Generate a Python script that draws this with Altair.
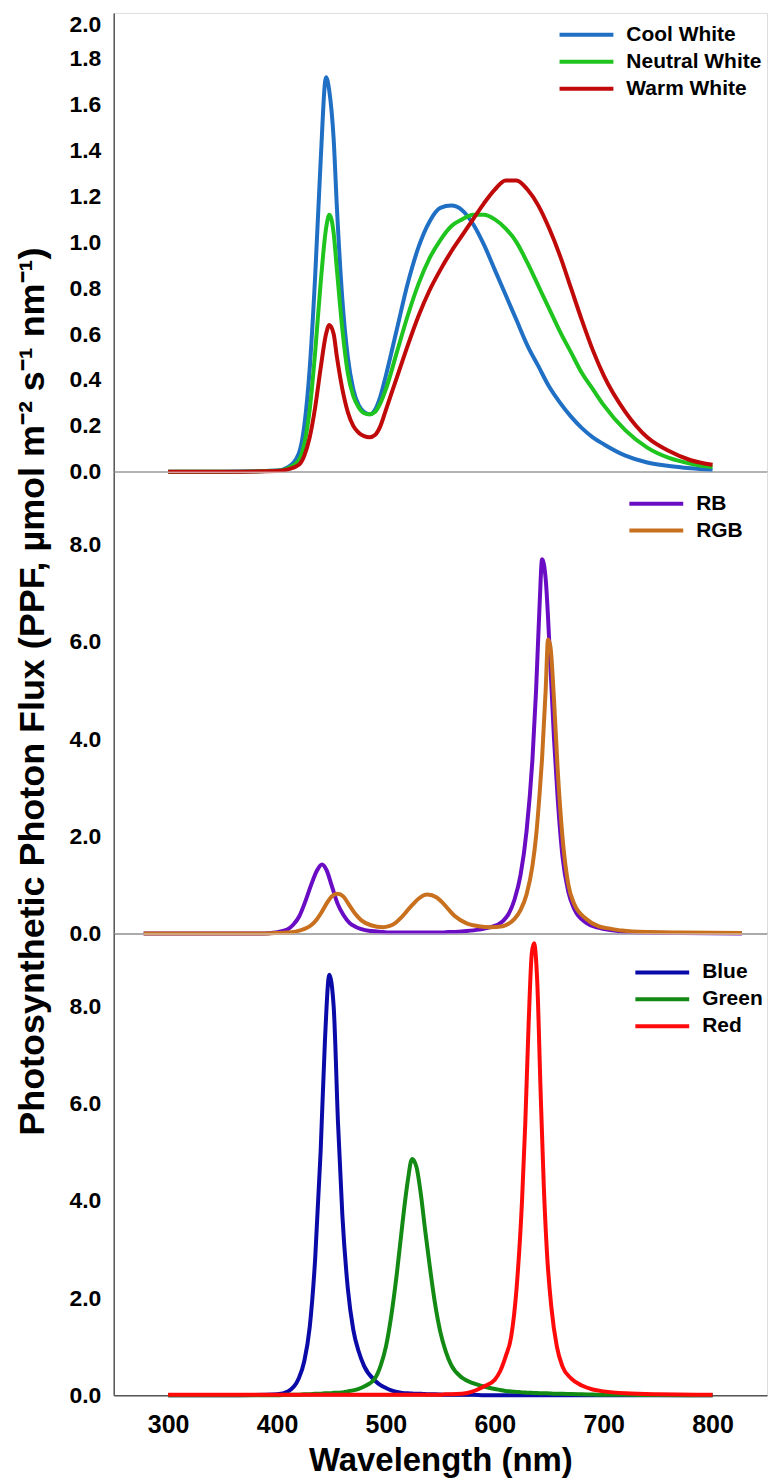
import altair as alt
import pandas as pd

FONT = "Liberation Sans"

# ---------------- data ----------------
TOP_SERIES = ["Cool White", "Neutral White", "Warm White"]
TOP_COLORS = ["#1f6fc4", "#1fc41f", "#c00a0a"]
TOP_WL = [300, 350, 400, 410, 420, 425, 430, 435, 440, 445, 448, 452, 455, 460, 465,
          470, 475, 480, 485, 490, 495, 500, 510, 520, 530, 540, 550, 560, 570, 580,
          590, 600, 610, 620, 630, 640, 650, 660, 670, 680, 690, 700, 720, 740, 760,
          780, 800]
COOL_WHITE = [0, 0, 0.005, 0.02, 0.08, 0.2, 0.45, 0.85, 1.35, 1.72, 1.66, 1.45, 1.15,
              0.75, 0.5, 0.36, 0.29, 0.26, 0.25, 0.27, 0.33, 0.42, 0.62, 0.82, 0.98,
              1.09, 1.15, 1.16, 1.14, 1.08, 0.99, 0.88, 0.77, 0.66, 0.55, 0.46, 0.37,
              0.30, 0.24, 0.19, 0.15, 0.12, 0.07, 0.04, 0.025, 0.015, 0.008]
NEUTRAL_WHITE = [0, 0, 0.004, 0.015, 0.05, 0.12, 0.27, 0.52, 0.82, 1.06, 1.12, 1.04,
                 0.88, 0.62, 0.43, 0.33, 0.28, 0.255, 0.25, 0.26, 0.3, 0.36, 0.52, 0.68,
                 0.82, 0.93, 1.01, 1.07, 1.1, 1.12, 1.12, 1.1, 1.06, 1.0, 0.91, 0.81,
                 0.71, 0.61, 0.52, 0.43, 0.36, 0.29, 0.18, 0.105, 0.06, 0.035, 0.02]
WARM_WHITE = [0, 0, 0.003, 0.01, 0.03, 0.07, 0.15, 0.28, 0.45, 0.6, 0.64, 0.6, 0.5,
              0.36, 0.26, 0.2, 0.17, 0.155, 0.15, 0.16, 0.2, 0.27, 0.41, 0.55, 0.68,
              0.79, 0.88, 0.96, 1.03, 1.1, 1.17, 1.23, 1.27, 1.27, 1.23, 1.16, 1.06,
              0.94, 0.8, 0.66, 0.53, 0.42, 0.26, 0.15, 0.09, 0.05, 0.03]

MID_SERIES = ["RB", "RGB"]
MID_COLORS = ["#6a0cc4", "#c8701e"]
MID_WL = [300, 350, 400, 410, 420, 425, 430, 435, 440, 445, 449, 453, 457, 462, 467,
          472, 477, 482, 490, 500, 505, 510, 515, 520, 525, 530, 537, 545, 550, 555,
          560, 570, 580, 590, 600, 605, 610, 615, 620, 625, 628, 631, 633, 636, 638,
          640, 643, 646, 650, 655, 660, 670, 680, 690, 700, 720, 750, 800]
RB = [0, 0, 0, 0.02, 0.08, 0.18, 0.35, 0.65, 1.0, 1.3, 1.42, 1.3, 1.0, 0.62, 0.38,
      0.22, 0.14, 0.09, 0.05, 0.03, 0.02, 0.02, 0.02, 0.02, 0.02, 0.02, 0.02, 0.02,
      0.02, 0.03, 0.03, 0.05, 0.08, 0.13, 0.25, 0.4, 0.7, 1.2, 2.1, 3.6, 5.0, 6.8,
      7.7, 7.3, 6.5, 5.5, 4.0, 2.8, 1.6, 0.85, 0.5, 0.22, 0.12, 0.07, 0.04, 0.02,
      0.01, 0]
RGB = [0, 0, 0, 0.01, 0.02, 0.03, 0.06, 0.1, 0.17, 0.3, 0.45, 0.62, 0.76, 0.82, 0.76,
       0.58, 0.4, 0.27, 0.17, 0.13, 0.15, 0.21, 0.32, 0.46, 0.6, 0.72, 0.8, 0.74,
       0.63, 0.49, 0.36, 0.21, 0.15, 0.13, 0.15, 0.2, 0.3, 0.48, 0.8, 1.4, 2.0, 2.9,
       3.6, 5.0, 6.05, 5.9, 4.8, 3.4, 2.0, 1.0, 0.6, 0.3, 0.15, 0.1, 0.06, 0.03, 0.02,
       0.01]

BOT_SERIES = ["Blue", "Green", "Red"]
BOT_COLORS = ["#0a0aa8", "#138a13", "#ff0a0a"]
BOT_WL = [300, 350, 390, 400, 410, 420, 425, 430, 435, 440, 444, 448, 452, 456, 460,
          465, 470, 475, 480, 490, 495, 500, 505, 510, 515, 520, 524, 528, 532, 536,
          540, 545, 550, 555, 560, 570, 580, 590, 600, 605, 610, 615, 620, 625, 628,
          631, 634, 636, 639, 642, 645, 648, 652, 657, 662, 670, 680, 690, 700, 720,
          750, 800]
BLUE = [0, 0, 0.01, 0.02, 0.08, 0.35, 0.7, 1.4, 2.8, 5.0, 7.3, 8.65, 8.0, 5.6, 3.7,
        2.2, 1.35, 0.9, 0.6, 0.3, 0.21, 0.15, 0.1, 0.07, 0.05, 0.04, 0.035, 0.03, 0.03,
        0.025, 0.02, 0.02, 0.015, 0.01, 0.01, 0.01, 0.01, 0, 0, 0, 0, 0, 0, 0, 0, 0,
        0, 0, 0, 0, 0, 0, 0, 0, 0, 0, 0, 0, 0, 0, 0, 0]
GREEN = [0, 0, 0, 0, 0.01, 0.01, 0.02, 0.02, 0.03, 0.03, 0.04, 0.04, 0.05, 0.05, 0.06,
         0.08, 0.1, 0.13, 0.18, 0.35, 0.6, 1.0, 1.65, 2.5, 3.5, 4.4, 4.86, 4.7, 4.15,
         3.4, 2.7, 1.9, 1.3, 0.9, 0.62, 0.36, 0.25, 0.18, 0.13, 0.11, 0.09, 0.08, 0.07,
         0.06, 0.055, 0.05, 0.05, 0.045, 0.045, 0.04, 0.04, 0.04, 0.035, 0.03, 0.03,
         0.025, 0.02, 0.015, 0.01, 0.01, 0.005, 0]
RED = [0.01, 0.01, 0.01, 0.01, 0.01, 0.01, 0.01, 0.01, 0.01, 0.01, 0.01, 0.01, 0.01,
       0.01, 0.01, 0.01, 0.01, 0.01, 0.01, 0.01, 0.01, 0.01, 0.01, 0.01, 0.01, 0.01,
       0.01, 0.01, 0.01, 0.01, 0.01, 0.01, 0.01, 0.02, 0.02, 0.03, 0.08, 0.18, 0.32,
       0.5, 0.8, 1.2, 2.2, 4.0, 5.6, 7.6, 9.1, 9.3, 8.5, 6.3, 4.3, 2.9, 1.8, 1.0, 0.6,
       0.35, 0.2, 0.12, 0.08, 0.04, 0.02, 0.01]

X_TICKS = [300, 400, 500, 600, 700, 800]
TOP_Y_TICKS = [0.0, 0.2, 0.4, 0.6, 0.8, 1.0, 1.2, 1.4, 1.6, 1.8, 2.0]
LOW_Y_TICKS = [0.0, 2.0, 4.0, 6.0, 8.0]
Y_TITLE = "Photosynthetic Photon Flux (PPF, µmol m⁻² s⁻¹ nm⁻¹)"
X_TITLE = "Wavelength (nm)"


def make_df(wl, names, values):
    rows = []
    for name, vals in zip(names, values):
        for order, (w, v) in enumerate(zip(wl, vals)):
            rows.append({"wl": w, "val": v, "series": name, "order": order})
    return pd.DataFrame(rows)


top_df = make_df(TOP_WL, TOP_SERIES, [COOL_WHITE, NEUTRAL_WHITE, WARM_WHITE])
mid_df = make_df(MID_WL, MID_SERIES, [RB, RGB])
bot_df = make_df(BOT_WL, BOT_SERIES, [BLUE, GREEN, RED])

W = 655


def legend(lx, ly):
    return alt.Legend(
        orient="none", legendX=lx, legendY=ly, title=None,
        symbolType="M-2.7,0H2.7", symbolSize=400, symbolStrokeWidth=4,
        labelFont=FONT, labelFontSize=21, labelFontWeight="bold", labelColor="black",
        labelOffset=28, rowPadding=5, padding=0,
    )


def y_axis(values, title=None, top_label_shift=False):
    kw = dict(values=values, format=".1f", ticks=False, grid=False,
              labelFont=FONT, labelFontSize=23, labelFontWeight="bold",
              labelColor="black", labelPadding=13, labelFlush=False,
              domainColor="#555555", domainWidth=1.5)
    if top_label_shift:
        kw["labelOffset"] = alt.condition("datum.value == 2", alt.value(12), alt.value(0))
    if title is not None:
        kw.update(title=title, titleFont=FONT, titleFontSize=36,
                  titleFontWeight="bold", titleColor="black", titlePadding=17,
                  titleY=220)
    else:
        kw.update(title=None)
    return alt.Axis(**kw)


hidden_x = alt.Axis(labels=False, ticks=False, grid=False, title=None,
                    domainColor="#555555", domainWidth=1.5)

bottom_x = alt.Axis(values=X_TICKS, ticks=False, grid=False,
                    labelFont=FONT, labelFontSize=25, labelFontWeight="bold",
                    labelColor="black", labelPadding=17, labelFlush=False,
                    title=X_TITLE, titleFont=FONT, titleFontSize=33,
                    titleFontWeight="bold", titleColor="black", titlePadding=7,
                    domainColor="#555555", domainWidth=1.5)

line_kw = dict(strokeWidth=4, interpolate="monotone")

top = alt.Chart(top_df).mark_line(**line_kw).encode(
    x=alt.X("wl:Q", scale=alt.Scale(domain=[250, 850], nice=False, zero=False), axis=hidden_x),
    y=alt.Y("val:Q", scale=alt.Scale(domain=[0, 2], nice=False),
            axis=y_axis(TOP_Y_TICKS, top_label_shift=True)),
    color=alt.Color("series:N", scale=alt.Scale(domain=TOP_SERIES, range=TOP_COLORS),
                    legend=legend(462, 10)),
    order="order:Q",
).properties(width=W, height=460)

mid = alt.Chart(mid_df).mark_line(**line_kw).encode(
    x=alt.X("wl:Q", scale=alt.Scale(domain=[275, 821], nice=False, zero=False), axis=hidden_x),
    y=alt.Y("val:Q", scale=alt.Scale(domain=[0, 9.5], nice=False),
            axis=y_axis(LOW_Y_TICKS, Y_TITLE)),
    color=alt.Color("series:N", scale=alt.Scale(domain=MID_SERIES, range=MID_COLORS),
                    legend=legend(532, 20)),
    order="order:Q",
).properties(width=W, height=463)

bot = alt.Chart(bot_df).mark_line(**line_kw).encode(
    x=alt.X("wl:Q", scale=alt.Scale(domain=[250, 850], nice=False, zero=False), axis=bottom_x),
    y=alt.Y("val:Q", scale=alt.Scale(domain=[0, 9.5], nice=False), axis=y_axis(LOW_Y_TICKS)),
    color=alt.Color("series:N", scale=alt.Scale(domain=BOT_SERIES, range=BOT_COLORS),
                    legend=legend(538, 27)),
    order="order:Q",
).properties(width=W, height=463)

chart = alt.vconcat(top, mid, bot, spacing=0, bounds="flush").resolve_scale(
    x="independent", y="independent", color="independent"
).resolve_legend(color="independent").properties(
    padding={"left": 6, "top": 2, "right": 0, "bottom": 0}
).configure_view(stroke="black", strokeWidth=1).configure(background="white")

chart.save("out.html", embed_options={"renderer": "svg", "actions": False})
